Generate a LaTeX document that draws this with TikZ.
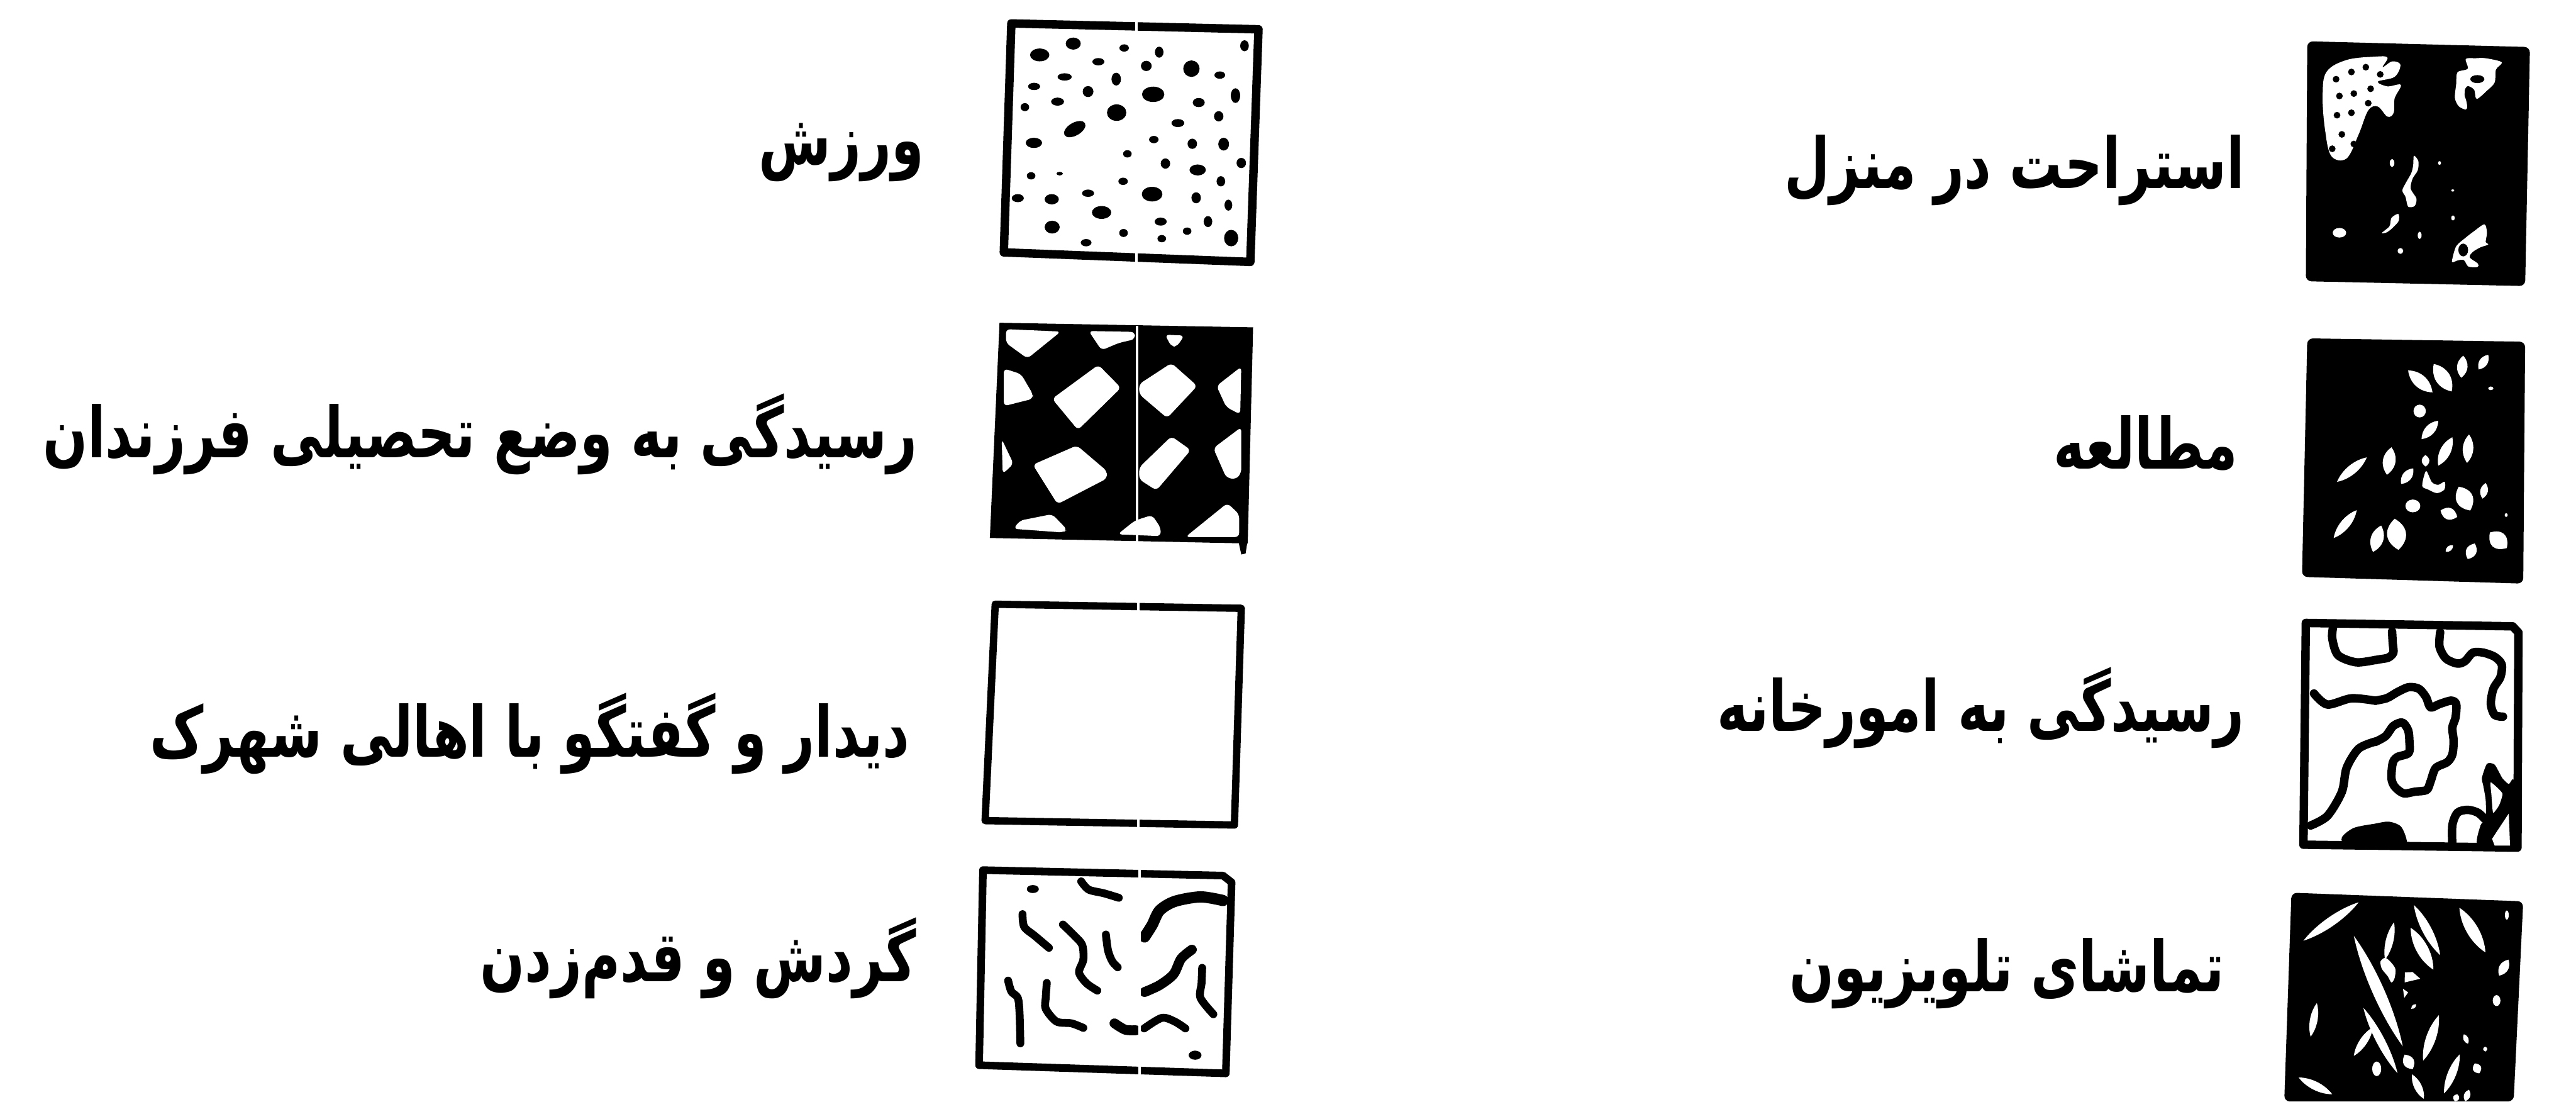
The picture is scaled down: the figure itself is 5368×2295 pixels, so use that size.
\documentclass[tikz,border=0pt]{standalone}
\usepackage{fontspec}
\newfontfamily\arabicfont[Script=Arabic,FakeStretch=0.745]{DejaVu Sans}
\TeXXeTstate=1
\usetikzlibrary{calc}
\newcommand\petal[3]{\fill[white] (#1) .. controls ($(#1)!0.3!(#2)!#3!90:(#2)$) and ($(#1)!0.7!(#2)!#3!90:(#2)$) .. (#2) .. controls ($(#1)!0.7!(#2)!#3!-90:(#2)$) and ($(#1)!0.3!(#2)!#3!-90:(#2)$) .. cycle;}
\tikzset{
  zA/.style={shift={(2000,0)},x=0.0026786cm,y=-0.0022959cm},
  zB/.style={shift={(2000,600)},x=0.0026786cm,y=-0.0022959cm},
  zC/.style={shift={(2000,1200)},x=0.0026786cm,y=-0.0021046cm},
  zD/.style={shift={(2000,1700)},x=0.0026786cm,y=-0.0022768cm},
  zE/.style={shift={(4950,0)},x=0.0015995cm,y=-0.0022959cm},
  zF/.style={shift={(4950,600)},x=0.0015995cm,y=-0.0022959cm},
  zG/.style={shift={(4950,1200)},x=0.0015995cm,y=-0.0021046cm},
  zH/.style={shift={(4950,1700)},x=0.0015995cm,y=-0.0022768cm},
  bd/.style={line width=3pt,line join=round},
  crv/.style={line width=2.8pt,line cap=round,line join=round},
  seam/.style={white,line width=0.9pt},
  lab/.style={anchor=east,inner sep=0pt,font={\arabicfont\bfseries\fontsize{25}{28}\selectfont}}
}
\begin{document}
\begin{tikzpicture}[x=0.006cm,y=-0.006cm]
\useasboundingbox (0,0) rectangle (5368,2295);

% ---------- labels ----------
\node[lab] (l1) at (1926,318) {\beginR ورزش\endR};
\node[lab] (l2) at (1913,905) {\beginR رسیدگی به وضع تحصیلی فرزندان\endR};
\node[lab] (l3) at (1897,1528) {\beginR دیدار و گفتگو با اهالی شهرک\endR};
\node[lab] (l4) at (1910,1997) {\beginR گردش و قدم^^^^200cزدن\endR};
\node[lab] (r1) at (4678,355) {\beginR استراحت در منزل\endR};
\node[lab] (r2) at (4665,923) {\beginR مطالعه\endR};
\node[lab] (r3) at (4678,1475) {\beginR رسیدگی به امورخانه\endR};
\node[lab] (r4) at (4637,2028) {\beginR تماشای تلویزیون\endR};

% ---------- box 1: dots ----------
\begin{scope}[zA]
  \draw[bd] (240,128) -- (1390,160) -- (1352,1430) -- (205,1378) -- cycle;
  \foreach \x/\y/\a/\b in {372/300/45/35, 528/238/35/33, 765/262/22/20, 928/285/20/30, 1325/250/20/30, 645/337/28/20, 868/360/25/28, 1078/375/38/45, 1210/410/25/20, 488/420/33/20, 728/432/22/35, 346/472/28/20, 597/500/25/30, 900/515/52/42, 1112/560/28/25, 1283/522/22/40, 455/555/30/22, 303/585/20/22, 730/615/45/45, 1205/635/22/28, 1015/672/30/22, 345/780/38/28, 903/762/22/20, 1082/785/22/28, 1228/787/25/35, 780/840/20/20, 957/893/22/28, 1107/928/38/30, 1310/890/22/28, 332/960/20/20, 465/948/15/10, 760/990/22/20, 1215/990/20/28, 597/1055/28/20, 895/1060/48/40, 1100/1080/22/30, 270/1082/28/22, 428/1088/33/28, 1250/1120/18/30, 660/1160/45/35, 430/1240/35/35, 935/1210/28/22, 1155/1210/20/30, 762/1272/20/22, 1058/1262/20/20, 1263/1300/33/45, 940/1303/20/20, 588/1325/25/20}
    \fill (\x,\y) ellipse [x radius=\a, y radius=\b];
  \fill[rotate around={30:(535,705)}] (535,705) ellipse [x radius=55, y radius=35];
  \draw[seam] (822,120) -- (822,1440);
\end{scope}

% ---------- box 2: black with white blocks ----------
\begin{scope}[zB]
  \fill (185,190) -- (1365,215) -- (1340,1395) -- (140,1365) -- cycle;
  \fill (1298,1390) -- (1338,1390) -- (1330,1450) -- (1310,1455) -- cycle;
  \begin{scope}[white,rounded corners=1.5pt]
    \fill (215,225) -- (470,238) -- (315,385) -- (215,300) -- cycle;
    \fill (600,235) -- (815,240) -- (815,280) -- (740,300) -- (660,340) -- cycle;
    \fill (205,440) -- (285,470) -- (340,580) -- (340,605) -- (205,645) -- cycle;
    \fill (430,605) -- (645,420) -- (750,545) -- (550,775) -- cycle;
    \fill (195,825) -- (250,960) -- (200,1015) -- cycle;
    \fill (340,965) -- (545,860) -- (685,1000) -- (685,1040) -- (455,1180) -- cycle;
    \fill (250,1315) -- (280,1270) -- (430,1235) -- (500,1320) -- (480,1335) -- cycle;
    \fill (735,1345) -- (815,1270) -- (895,1240) -- (935,1310) -- (935,1355) -- cycle;
    \fill (955,255) -- (1045,260) -- (1010,320) -- (985,320) -- cycle;
    \fill (835,525) -- (985,410) -- (1105,535) -- (965,710) -- (835,580) -- cycle;
    \fill (1310,430) -- (1195,535) -- (1240,650) -- (1305,690) -- cycle;
    \fill (835,980) -- (985,810) -- (1075,885) -- (915,1105) -- (835,1045) -- cycle;
    \fill (1310,760) -- (1180,875) -- (1240,1035) -- (1285,1045) -- (1310,1010) -- cycle;
    \fill (1050,1360) -- (1245,1175) -- (1300,1235) -- (1300,1360) -- cycle;
  \end{scope}
  \draw[seam] (826,205) -- (826,1392);
\end{scope}

% ---------- box 3: empty ----------
\begin{scope}[zC]
  \draw[bd,line width=2.6pt] (165,168) -- (1310,192) -- (1278,1478) -- (118,1452) -- cycle;
  \draw[seam] (830,150) -- (830,1500);
\end{scope}

% ---------- box 4: wavy strokes ----------
\begin{scope}[zD]
  \draw[bd,line width=2.7pt] (108,298) -- (1225,328) -- (1265,365) -- (1238,1415) -- (90,1370) -- cycle;
  \draw[crv] plot[smooth] coordinates {(565,360) (600,405) (670,425) (740,450)};
  \draw[crv,line width=4pt] plot[smooth] coordinates {(1225,465) (1120,445) (1000,470) (930,520) (895,600) (860,665)};
  \draw[crv] plot[smooth] coordinates {(292,540) (300,610) (350,660) (415,725)};
  \draw[crv] plot[smooth] coordinates {(480,597) (535,660) (570,710) (575,790) (555,860) (590,920) (640,960)};
  \draw[crv] plot[smooth] coordinates {(680,652) (690,740) (710,800) (735,832)};
  \draw[crv,line width=3.5pt] plot[smooth] coordinates {(1080,735) (1030,785) (995,870) (930,930) (860,968)};
  \draw[crv] plot[smooth] coordinates {(1128,835) (1125,920) (1120,1000) (1180,1090)};
  \draw[crv] plot[smooth] coordinates {(225,905) (240,965) (270,1000) (278,1080) (282,1250)};
  \draw[crv] plot[smooth] coordinates {(405,918) (400,1000) (400,1060) (450,1130) (520,1140) (575,1165)};
  \draw[crv,line width=3.5pt] plot[smooth] coordinates {(720,1140) (770,1175) (820,1178)};
  \draw[crv] plot[smooth] coordinates {(858,1168) (940,1110) (1000,1130) (1050,1168)};
  \fill (340,402) ellipse [x radius=28, y radius=22];
  \fill (1095,1315) ellipse [x radius=30, y radius=25];
  \draw[seam] (838,280) -- (838,1430);
\end{scope}

% ---------- box 5: black with white blobs ----------
\fill[rounded corners=2pt] (4808,86) -- (5272,98) -- (5262,596) -- (4805,586) -- cycle;
\fill[white] plot[smooth cycle,tension=0.6] coordinates {(4848,150) (4890,125) (4950,118) (4975,120) (4965,140) (4985,128) (5002,135) (4990,160) (4955,170) (4975,180) (5003,177) (4990,205) (4988,235) (4975,243) (4955,222) (4935,230) (4915,280) (4890,330) (4858,325) (4845,270) (4840,200)};
\foreach \p in {(4868,165),(4900,150),(4930,140),(4875,200),(4905,195),(4940,185),(4870,240),(4900,235),(4935,215),(4880,280),(4905,300),(4860,310),(4960,155)}
  \fill \p circle (7);
\fill[white] (4875,485) ellipse [x radius=14, y radius=10];
\begin{scope}[zE]
  \fill[white] plot[smooth cycle,tension=0.5] coordinates {(705,322) (780,318) (860,318) (985,340) (940,380) (930,450) (870,495) (790,540) (770,490) (720,470) (695,500) (715,575) (705,598) (650,580) (620,535) (630,460) (640,395) (720,375)};
  \fill (795,432) ellipse [x radius=55, y radius=22];
  \fill (735,515) ellipse [x radius=40, y radius=38];
  \fill[white] plot[smooth cycle,tension=0.5] coordinates {(300,850) (335,880) (330,930) (290,975) (275,1030) (320,1085) (305,1125) (255,1128) (235,1075) (210,1040) (240,995) (280,945) (295,900)};
  \fill[white] (130,890) ellipse [x radius=18, y radius=22];
  \fill[white] (500,890) ellipse [x radius=12, y radius=10];
  \fill[white] (603,1040) ellipse [x radius=12, y radius=6];
  \fill[white] (605,1190) ellipse [x radius=14, y radius=14];
  \fill[white] (345,1285) ellipse [x radius=15, y radius=20];
  \fill[white] (195,1370) ellipse [x radius=22, y radius=16];
  \fill[white] plot[smooth cycle,tension=0.5] coordinates {(50,1272) (110,1235) (125,1190) (178,1168) (182,1205) (140,1240) (90,1268)};
  \fill[white] plot[smooth cycle,tension=0.5] coordinates {(598,1420) (630,1345) (700,1300) (770,1262) (850,1225) (870,1270) (860,1320) (880,1335) (820,1350) (760,1375) (735,1405) (800,1440) (795,1458) (725,1455) (690,1420) (640,1422) (605,1432)};
  \fill (685,1365) ellipse [x radius=38, y radius=35];
\end{scope}

% ---------- box 6: black with white petals ----------
\fill[rounded corners=2pt] (4808,705) -- (5262,712) -- (5258,1216) -- (4797,1202) -- cycle;
\petal{4932,953}{4870,1004}{2.2pt}
\petal{4911,1063}{4863,1121}{2.2pt}
\petal{4962,1095}{4945,1150}{3pt}
\begin{scope}[zF]
  \petal{255,450}{445,570}{3pt}
  \petal{455,415}{595,565}{3.5pt}
  \petal{685,370}{670,490}{2.5pt}
  \petal{880,365}{805,445}{2pt}
  \fill[white] (900,548) ellipse [x radius=20, y radius=10];
  \fill[white] (345,672) ellipse [x radius=48, y radius=35];
  \petal{490,725}{360,825}{2.3pt}
  \petal{600,815}{490,970}{2.5pt}
  \petal{730,800}{715,955}{2.5pt}
  \petal{125,870}{90,1020}{3pt}
  \petal{390,912}{392,975}{1.8pt}
  \petal{295,985}{200,1070}{2.2pt}
  \fill[white] plot[smooth cycle,tension=0.5] coordinates {(365,1080) (395,1000) (440,1060) (490,1075) (540,1058) (538,1100) (480,1120) (410,1100)};
  \petal{860,1065}{835,1150}{1.8pt}
  \petal{650,1085}{740,1215}{4pt}
  \fill[white] (292,1190) ellipse [x radius=58, y radius=35];
  \petal{508,1215}{638,1250}{2.8pt}
  \fill[white] (1020,1240) ellipse [x radius=12, y radius=10];
  \petal{150,1260}{180,1430}{4.5pt}
  \petal{605,1405}{548,1440}{1.2pt}
  \petal{775,1395}{720,1480}{2.5pt}
  \petal{893,1335}{1025,1420}{4pt}
\end{scope}

% ---------- box 7: maze ----------
\draw[bd] (4805,1298) -- (5236,1305) -- (5248,1318) -- (5246,1766) -- (4800,1760) -- cycle;
\draw[crv,line width=3pt] plot[smooth] coordinates {(4950,1375) (4910,1380) (4872,1365) (4860,1330) (4862,1305)};
\draw[crv,line width=3pt] plot[smooth] coordinates {(4950,1460) (4900,1455) (4850,1468) (4822,1445)};
\draw[crv,line width=3pt] plot[smooth] coordinates {(4950,1545) (4915,1560) (4890,1600) (4880,1650) (4850,1700) (4815,1720)};
\fill plot[smooth cycle,tension=0.5] coordinates {(4905,1725) (4950,1716) (4978,1712) (5003,1722) (5015,1750) (5010,1765) (4950,1765) (4890,1762) (4880,1745)};
\begin{scope}[zG]
  \draw[crv,line width=3pt] plot[smooth] coordinates {(130,330) (135,400) (140,455) (100,485) (30,495) (0,500)};
  \draw[crv,line width=3pt] plot[smooth] coordinates {(505,335) (500,420) (550,490) (640,520) (700,505) (760,455) (840,455) (930,480) (985,525) (975,600) (920,670) (900,760) (930,825) (995,835)};
  \draw[crv,line width=3pt] plot[smooth] coordinates {(0,740) (90,725) (170,690) (260,660) (340,670) (395,720) (430,780) (500,760) (590,740) (630,760) (625,840) (600,900) (610,980) (600,1060) (560,1105) (470,1140) (430,1220) (400,1270) (310,1280) (220,1290) (150,1250) (125,1200) (135,1110) (170,1075) (260,1050) (265,980) (255,915) (210,870) (140,890) (80,950) (0,985)};
  \fill plot[smooth cycle,tension=0.4] coordinates {(830,1200) (870,1115) (930,1120) (990,1200) (1040,1235) (1080,1220) (1080,1600) (800,1600) (820,1480) (860,1440) (860,1330) (840,1240)};
  \fill[white] plot[smooth cycle,tension=0.3] coordinates {(900,1225) (990,1290) (965,1360) (918,1405) (905,1300)};
  \fill[white] (910,1560) -- (1040,1410) -- (1050,1600) -- (930,1600) -- cycle;
  \draw[crv,line width=3pt] plot[smooth] coordinates {(600,1600) (600,1480) (640,1405) (720,1388) (800,1405) (850,1440)};
\end{scope}

% ---------- box 8: black with white streaks ----------
\fill[rounded corners=2pt] (4775,1860) -- (5258,1878) -- (5238,2295) -- (4760,2295) -- cycle;
\petal{4800,1960}{4915,1880}{2.2pt}
\petal{4828,2090}{4815,2160}{1.8pt}
\petal{4905,2200}{4945,2140}{1.8pt}
\petal{4790,2245}{4860,2280}{2pt}
\petal{4905,1950}{5007,2180}{2.8pt}
\petal{4925,2100}{4996,2236}{2pt}
\begin{scope}[zH]
  \petal{300,490}{505,765}{2.2pt}
  \petal{275,615}{452,845}{2.8pt}
  \petal{655,505}{858,750}{2.8pt}
  \fill[white] (1025,545) ellipse [x radius=15, y radius=25];
  \petal{145,585}{75,790}{1.8pt}
  \fill[white] plot[smooth cycle] coordinates {(40,800) (75,780) (115,800) (155,840) (150,890) (125,915) (95,880) (50,840)};
  \fill[white] (230,860) -- (290,858) -- (350,895) -- (228,915) -- cycle;
  \fill[white] (215,950) -- (255,970) -- (225,1000) -- cycle;
  \petal{1038,790}{965,878}{2.2pt}
  \fill[white] (945,1015) ellipse [x radius=30, y radius=30];
  \petal{318,1035}{280,1060}{0.8pt}
  \petal{495,1095}{372,1345}{2.3pt}
  \petal{228,1312}{290,1392}{2.6pt}
  \petal{690,1200}{722,1252}{1.2pt}
  \petal{855,1268}{858,1295}{1pt}
  \petal{658,1310}{535,1525}{2pt}
  \petal{775,1360}{810,1415}{2pt}
  \petal{285,1420}{378,1555}{1.8pt}
  \fill[white] (10,1390) ellipse [x radius=35, y radius=40];
  \petal{640,1530}{620,1568}{1.5pt}
  \petal{730,1505}{700,1568}{1.5pt}
\end{scope}
\end{tikzpicture}
\end{document}
